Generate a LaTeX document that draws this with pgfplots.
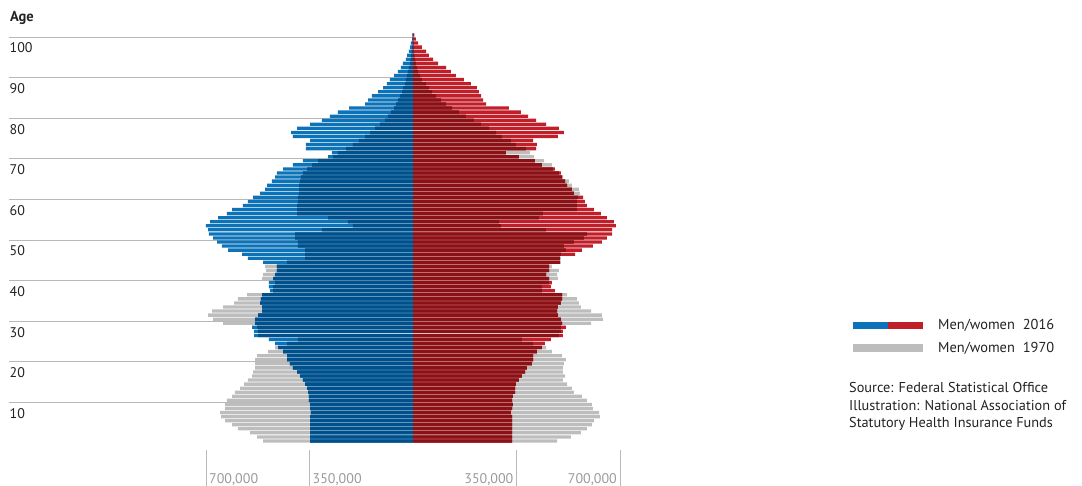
\documentclass[border=0pt]{standalone}
\usepackage{pgfplots}
\pgfplotsset{compat=1.18}
\usepackage{pgfplotstable}
\usepackage{fontspec}
\setmainfont{PT Sans}
\definecolor{blueD}{HTML}{00508C}
\definecolor{blueL}{HTML}{0C73B9}
\definecolor{redD}{HTML}{8A1216}
\definecolor{redL}{HTML}{C01F2A}
\definecolor{grayB}{HTML}{BDBDBD}
\definecolor{gridc}{HTML}{B8B8B8}
\definecolor{tickc}{HTML}{9A9A9A}
\definecolor{txt}{HTML}{222222}
\pgfplotstableread{
age m16 m70 f16 f70
0 348 507 335 487
1 348 527 335 534
2 348 551 335 568
3 348 592 335 588
4 348 612 335 605
5 348 635 335 612
6 348 649 335 632
7 345 652 331 629
8 348 635 335 608
9 348 635 338 605
10 352 629 335 588
11 352 612 338 571
12 355 602 345 544
13 358 585 345 537
14 365 571 348 521
15 372 558 358 507
16 382 544 368 514
17 392 541 379 507
18 406 534 385 507
19 416 534 402 510
20 426 534 406 517
21 426 527 406 504
22 439 490 419 470
23 456 466 436 450
24 466 426 446 406
25 487 389 466 368
26 537 524 507 493
27 537 524 507 500
28 544 527 517 500
29 534 642 504 602
30 534 676 500 642
31 524 693 490 639
32 510 679 487 602
33 510 642 490 568
34 517 605 500 561
35 514 592 504 554
36 510 561 504 521
37 483 473 480 436
38 487 473 466 436
39 487 466 470 460
40 473 510 460 490
41 466 507 450 487
42 460 497 460 493
43 460 500 460 470
44 507 426 497 500
45 558 365 497 500
46 578 365 548 500
47 625 365 571 517
48 646 389 608 510
49 662 389 639 544
50 676 399 656 578
51 690 399 673 588
52 693 308 673 450
53 700 203 686 297
54 686 220 679 291
55 659 287 656 426
56 629 392 635 439
57 612 392 612 554
58 575 392 588 554
59 558 389 581 554
60 541 389 575 558
61 517 385 544 564
62 500 385 537 561
63 493 385 521 537
64 477 382 514 527
65 466 379 504 507
66 460 372 500 493
67 439 358 480 473
68 406 341 436 470
69 372 321 412 443
70 287 270 358 409
71 274 254 314 395
72 362 226 416 382
73 362 203 419 348
74 348 183 406 331
75 406 162 490 301
76 412 145 510 281
77 392 128 493 257
78 348 112 450 230
79 308 95 416 206
80 281 85 389 179
81 254 74 365 155
82 216 64 324 132
83 162 57 247 112
84 152 51 237 95
85 139 44 230 78
86 118 37 223 64
87 101 34 216 54
88 88 27 196 44
89 78 24 172 30
90 64 20 145 24
91 51 17 128 17
92 41 14 112 14
93 34 10 85 10
94 24 8 68 7
95 20 7 54 5
96 14 5 44 3
97 10 3 30 2
98 7 2 17 2
99 3 2 10 1
100 2 1 5 1
}\pyr
\begin{document}
\begin{tikzpicture}[x=1pt,y=1pt]
\path[use as bounding box] (0,0) rectangle (1082,486);
\foreach \k in {1,...,10} {\draw[gridc, line width=0.9pt] (9,{43+40.6*\k}) -- (413,{43+40.6*\k});}
\begin{axis}[at={(4.9pt,43pt)}, anchor=south west, x=0.29571pt, y=4.06pt,
  xmin=-1380, xmax=760, ymin=0, ymax=101, hide axis, clip=false]
\addplot[xbar, bar shift=0pt, bar width=3.3pt, fill=grayB, draw=none]
  table[x expr=-\thisrow{m70}, y expr=\thisrow{age}+0.5]{\pyr};
\addplot[xbar, bar shift=0pt, bar width=3.3pt, fill=grayB, draw=none]
  table[x expr=\thisrow{f70}, y expr=\thisrow{age}+0.5]{\pyr};
\addplot[xbar, bar shift=0pt, bar width=3.3pt, fill=blueL, draw=none]
  table[x expr=-\thisrow{m16}, y expr=\thisrow{age}+0.5]{\pyr};
\addplot[xbar, bar shift=0pt, bar width=3.3pt, fill=redL, draw=none]
  table[x expr=\thisrow{f16}, y expr=\thisrow{age}+0.5]{\pyr};
\addplot[xbar, bar shift=0pt, bar width=3.3pt, fill=blueD, draw=none]
  table[x expr={-min(\thisrow{m16},\thisrow{m70})}, y expr=\thisrow{age}+0.5]{\pyr};
\addplot[xbar, bar shift=0pt, bar width=3.3pt, fill=redD, draw=none]
  table[x expr={min(\thisrow{f16},\thisrow{f70})}, y expr=\thisrow{age}+0.5]{\pyr};
\end{axis}
% age labels
\node[anchor=base west, inner sep=0pt, txt, font=\fontsize{14.5}{16}\selectfont\bfseries] at (10,464) {Age};
\foreach \k in {1,...,10} {
  \pgfmathtruncatemacro{\lab}{10*\k}
  \node[anchor=base west, inner sep=0pt, txt, font=\fontsize{14}{16}\selectfont] at (9.5,{27+40.6*\k}) {\lab};
}
% bottom scale
\foreach \xx in {206,309.5,516.5,620} {\draw[gridc, line width=0.9pt] (\xx,0) -- (\xx,36);}
\node[anchor=base west, inner sep=0pt, tickc, font=\fontsize{14}{16}\selectfont] at (209,2) {700,000};
\node[anchor=base west, inner sep=0pt, tickc, font=\fontsize{14}{16}\selectfont] at (312.5,2) {350,000};
\node[anchor=base east, inner sep=0pt, tickc, font=\fontsize{14}{16}\selectfont] at (513.5,2) {350,000};
\node[anchor=base east, inner sep=0pt, tickc, font=\fontsize{14}{16}\selectfont] at (617,2) {700,000};
% legend
\fill[blueL] (852.7,156.7) rectangle (887.7,164.3);
\fill[redL] (887.7,156.7) rectangle (922.7,164.3);
\fill[grayB] (852.7,134) rectangle (922.7,141.6);
\node[anchor=west, inner sep=0pt, txt, font=\fontsize{14.4}{16}\selectfont] at (938,161) {Men/women\hspace{0.55em}2016};
\node[anchor=west, inner sep=0pt, txt, font=\fontsize{14.4}{16}\selectfont] at (938,138) {Men/women\hspace{0.55em}1970};
\node[anchor=west, inner sep=0pt, txt, font=\fontsize{14.3}{16}\selectfont] at (849,98) {Source: Federal Statistical Office};
\node[anchor=west, inner sep=0pt, txt, font=\fontsize{14.3}{16}\selectfont] at (849,80) {Illustration: National Association of};
\node[anchor=west, inner sep=0pt, txt, font=\fontsize{14.3}{16}\selectfont] at (849,62) {Statutory Health Insurance Funds};
\end{tikzpicture}
\end{document}
